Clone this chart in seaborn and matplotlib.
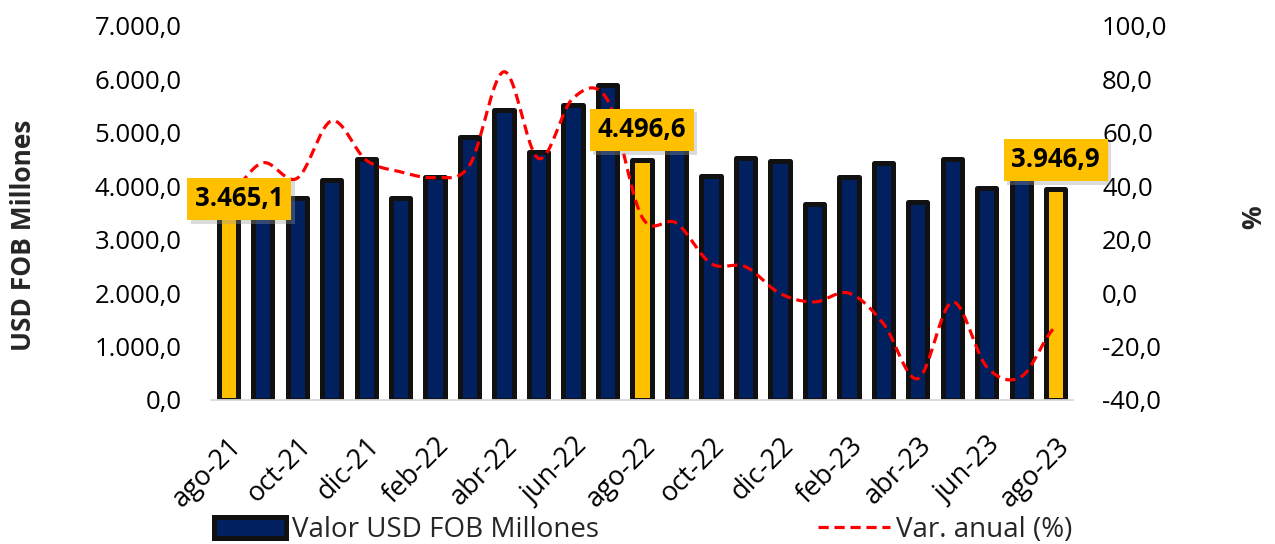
import numpy as np
import pandas as pd
import matplotlib
matplotlib.use("Agg")
import matplotlib.pyplot as plt
import matplotlib.patheffects as pe
from matplotlib.patches import Patch
from matplotlib.lines import Line2D
from matplotlib.ticker import FuncFormatter, FixedLocator
import seaborn as sns

# ---------------- data ----------------
months = ["ago-21", "sep-21", "oct-21", "nov-21", "dic-21", "ene-22", "feb-22",
          "mar-22", "abr-22", "may-22", "jun-22", "jul-22", "ago-22", "sep-22",
          "oct-22", "nov-22", "dic-22", "ene-23", "feb-23", "mar-23", "abr-23",
          "may-23", "jun-23", "jul-23", "ago-23"]
valor = [3465.1, 3800, 3775, 4120, 4520, 3775, 4180, 4930, 5430, 4635, 5520, 5895,
         4496.6, 4800, 4198, 4535, 4473, 3668, 4180, 4436, 3712, 4510, 3962, 4200,
         3946.9]
var_anual = [37.0, 48.8, 43.0, 64.5, 49.8, 45.4, 43.3, 47.9, 82.9, 50.4, 73.0, 72.3,
             28.5, 26.2, 11.1, 9.9, -0.1, -3.3, 0.0, -11.4, -32.0, -3.3, -27.6,
             -31.3, -12.6]
highlight = ["ago-21", "ago-22", "ago-23"]
tick_months = months[::2]
left_ticks = [0, 1000, 2000, 3000, 4000, 5000, 6000, 7000]
right_ticks = [-40, -20, 0, 20, 40, 60, 80, 100]
bar_name = "Valor USD FOB Millones"
line_name = "Var. anual (%)"

NAVY = "#002060"
GOLD = "#FFC000"
EDGE = "#111111"
RED = "#FF0000"
GRAY = "#D9D9D9"

sns.set_theme(style="white")
plt.rcParams["font.family"] = ["Open Sans", "DejaVu Sans"]
plt.rcParams["axes.unicode_minus"] = False


def es_fmt(v, _=None):
    s = f"{v:,.1f}"
    return s.replace(",", "X").replace(".", ",").replace("X", ".")


def smooth(y, n=24):
    """Excel-style smoothed line (Catmull-Rom through the data points)."""
    y = np.asarray(y, dtype=float)
    p = np.concatenate([[y[0]], y, [y[-1]]])
    xs, ys = [], []
    for i in range(len(y) - 1):
        p0, p1, p2, p3 = p[i], p[i + 1], p[i + 2], p[i + 3]
        t = np.linspace(0, 1, n, endpoint=False)
        seg = 0.5 * ((2 * p1) + (-p0 + p2) * t + (2 * p0 - 5 * p1 + 4 * p2 - p3) * t ** 2
                     + (-p0 + 3 * p1 - 3 * p2 + p3) * t ** 3)
        xs.extend(i + t)
        ys.extend(seg)
    xs.append(len(y) - 1)
    ys.append(y[-1])
    return np.array(xs), np.array(ys)


df = pd.DataFrame({"mes": months, "valor": valor, "var": var_anual})
palette = {m: (GOLD if m in highlight else NAVY) for m in months}

fig = plt.figure(figsize=(12.75, 5.44), dpi=100)
ax = fig.add_axes([211 / 1275, 144 / 544, 862 / 1275, 374 / 544])

sns.barplot(data=df, x="mes", y="valor", hue="mes", order=months, hue_order=months,
            palette=palette, legend=False, width=0.56, saturation=1,
            edgecolor=EDGE, linewidth=3.6, ax=ax)
for p in ax.patches:
    p.set_joinstyle("round")

ax.set_xlim(-0.5, len(months) - 0.5)
ax.set_ylim(left_ticks[0], left_ticks[-1])
ax.yaxis.set_major_locator(FixedLocator(left_ticks))
ax.yaxis.set_major_formatter(FuncFormatter(es_fmt))
ax.set_xlabel("")
ax.set_ylabel("")

# x ticks: labels every 2nd month, tick marks between pairs
ax.set_xticks([months.index(m) for m in tick_months])
ax.set_xticklabels(tick_months, rotation=45, ha="right", rotation_mode="anchor")
ax.set_xticks(np.arange(-0.5, len(months), 2), minor=True)
ax.tick_params(axis="x", which="major", length=0, pad=23, labelsize=19.5, colors="black")
ax.tick_params(axis="x", which="minor", length=7, width=1.3, color=GRAY, direction="out")
ax.tick_params(axis="y", length=0, pad=21, labelsize=18.5, colors="black")

for s in ["top", "left", "right"]:
    ax.spines[s].set_visible(False)
ax.spines["bottom"].set_color(GRAY)
ax.spines["bottom"].set_linewidth(1.3)

# secondary axis
ax2 = ax.twinx()
xs, ys = smooth(df["var"].values)
sns.lineplot(x=xs, y=ys, ax=ax2, sort=False, color=RED, linewidth=2.3,
             dashes=False, estimator=None)
ax2.lines[0].set_dashes((3.2, 1.8))
ax2.set_ylim(right_ticks[0], right_ticks[-1])
ax2.yaxis.set_major_locator(FixedLocator(right_ticks))
ax2.yaxis.set_major_formatter(FuncFormatter(es_fmt))
ax2.tick_params(axis="y", length=0, pad=21, labelsize=18.5, colors="black")
ax2.set_ylabel("")
for s in ["top", "left", "right", "bottom"]:
    ax2.spines[s].set_visible(False)
ax2.grid(False)
ax.grid(False)

# data labels on highlighted bars
label_offsets = {"ago-21": (8, 11.5), "ago-22": (0, 21.5), "ago-23": (0, 21)}
for m in highlight:
    i = months.index(m)
    v = valor[i]
    ann = ax2.annotate(es_fmt(v), xy=(i, v), xycoords=ax.transData,
                       xytext=label_offsets[m], textcoords="offset points",
                       ha="center", va="center", fontsize=18.5, fontweight="bold",
                       color="black", zorder=10,
                       bbox=dict(boxstyle="square,pad=0.3", fc=GOLD, ec="none"))
    ann.get_bbox_patch().set_path_effects(
        [pe.withSimplePatchShadow(offset=(2.5, -2.5), shadow_rgbFace="#999999", alpha=0.35),
         pe.Normal()])

# axis titles
fig.text(24 / 1275, 1 - 235 / 544, "USD FOB Millones", rotation=90, ha="center",
         va="center", fontsize=19, fontweight="bold")
fig.text(1254 / 1275, 1 - 217 / 544, "%", rotation=90, ha="center", va="center",
         fontsize=19, fontweight="bold")

# legend
handles = [Patch(facecolor=NAVY, edgecolor=EDGE, linewidth=3.6, joinstyle="round"),
           Line2D([0], [0], color=RED, linewidth=2.3, dashes=(3.2, 1.8))]
fig.legend(handles, [bar_name, line_name], loc="center left",
           bbox_to_anchor=(214 / 1275, 1 - 530 / 544), ncol=2, frameon=False,
           fontsize=20, handlelength=2.6, handleheight=0.8, handletextpad=0.2,
           columnspacing=7.9, borderpad=0, borderaxespad=0)

fig.savefig("out.png", dpi=100, facecolor="white")
